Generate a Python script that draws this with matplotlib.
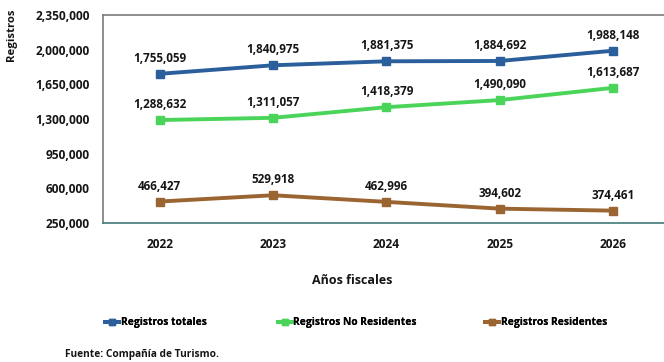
import matplotlib.pyplot as plt
from matplotlib.ticker import FuncFormatter

years = ["2022", "2023", "2024", "2025", "2026"]
totales = [1755059, 1840975, 1881375, 1884692, 1988148]
no_residentes = [1288632, 1311057, 1418379, 1490090, 1613687]
residentes = [466427, 529918, 462996, 394602, 374461]
y_ticks = [250000, 600000, 950000, 1300000, 1650000, 2000000, 2350000]

BLUE = "#2b5f9b"
GREEN = "#4bd45a"
BROWN = "#9b6532"
INK = "#151515"

plt.rcParams["font.family"] = ["Open Sans", "DejaVu Sans"]
plt.rcParams["font.weight"] = "bold"

fig = plt.figure(figsize=(6.64, 3.62), dpi=100)
ax = fig.add_axes([0.155, 0.384, 0.854, 0.575])

series = [
    (totales, BLUE, "Registros totales"),
    (no_residentes, GREEN, "Registros No Residentes"),
    (residentes, BROWN, "Registros Residentes"),
]
x = list(range(len(years)))
lines = []
for values, color, label in series:
    (ln,) = ax.plot(x, values, color=color, linewidth=2.8, marker="s",
                    markersize=5.5, label=label)
    lines.append(ln)
    for xi, v in zip(x, values):
        ax.annotate(f"{v:,}", (xi, v), xytext=(0, 6.5), textcoords="offset points",
                    ha="center", va="bottom", fontsize=8.4, fontweight="bold",
                    color=INK)

ax.set_xlim(-0.5, 4.5)
ax.set_ylim(250000, 2350000)
ax.set_yticks(y_ticks)
ax.yaxis.set_major_formatter(FuncFormatter(lambda v, _: f"{int(v):,}"))
ax.set_xticks(x)
ax.set_xticklabels(years)
ax.tick_params(axis="both", length=0, labelsize=8.6, colors=INK)
ax.tick_params(axis="x", pad=10.5)
ax.tick_params(axis="y", pad=9.5)

for side in ("left", "top"):
    ax.spines[side].set_color("#7a7a7a")
    ax.spines[side].set_linewidth(1.2)
ax.spines["bottom"].set_color("#3f7a78")
ax.spines["bottom"].set_linewidth(1.2)
ax.spines["right"].set_visible(False)

fig.text(0.018, 0.905, "Registros", rotation=90, ha="center", va="center",
         fontsize=8.2, fontweight="bold", color=INK)
fig.text(0.531, 0.224, "Años fiscales", ha="center", va="center",
         fontsize=9, fontweight="bold", color=INK)
fig.text(0.098, 0.022, "Fuente: Compañía de Turismo.", ha="left", va="center",
         fontsize=7.3, fontweight="bold", color=INK)

# one legend per series so each entry sits at its own spot along the row
legend_x = [0.158, 0.418, 0.73]
for ln, lx in zip(lines, legend_x):
    leg = fig.legend(handles=[ln], loc="center left", bbox_to_anchor=(lx, 0.108),
                     frameon=False, fontsize=7.4, handlelength=1.4,
                     handletextpad=0.15, borderpad=0, borderaxespad=0,
                     markerscale=0.9)
    fig.add_artist(leg)

fig.savefig("out.png", dpi=100)
